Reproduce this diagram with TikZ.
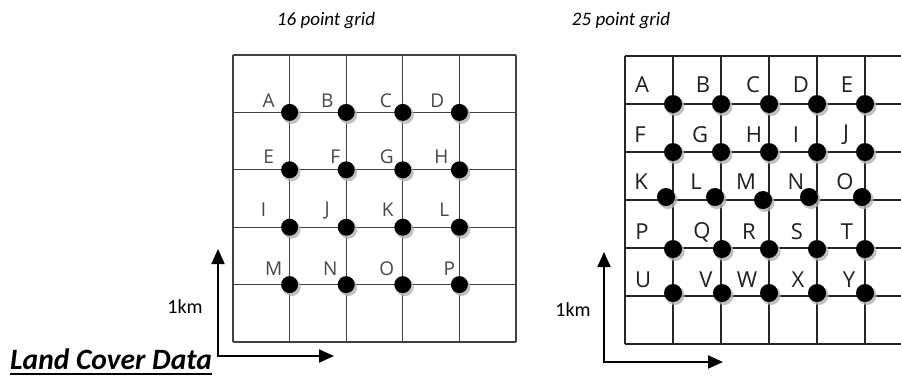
\documentclass[tikz,border=0pt]{standalone}
\usepackage{fontspec}
\setmainfont{Carlito}
\newfontfamily\lettfont{Open Sans}
\usetikzlibrary{arrows.meta}
\begin{document}
\begin{tikzpicture}[x=1pt,y=-1pt,
  gridline/.style={line width=1.3pt, draw=black!75},
  gridlineR/.style={line width=1.3pt, draw=black!85},
  dotshadow/.style={circle, fill=black!30, opacity=0.8, inner sep=0pt},
  dotfill/.style={circle, fill=black, inner sep=0pt},
  lblL/.style={font=\lettfont\fontsize{19}{19}\selectfont, text=black!72, inner sep=0pt},
  lblR/.style={font=\lettfont\fontsize{22}{22}\selectfont, text=black!88, inner sep=0pt},
  title/.style={font=\fontsize{19}{19}\selectfont\itshape, inner sep=0pt},
  kmlabel/.style={font=\fontsize{20}{20}\selectfont, inner sep=0pt},
  axis/.style={line width=2pt, -{Triangle[length=15pt,width=13pt]}}
]
\useasboundingbox (0,0) rectangle (901,376);
\clip (0,0) rectangle (901,376);

% ---------- left 16 point grid ----------
\foreach \i in {0,...,5} {
  \draw[gridline] ({233+56.6*\i},55) -- ({233+56.6*\i},342);
  \draw[gridline] (233,{55+57.4*\i}) -- (516,{55+57.4*\i});
}
\foreach \n/\c/\r/\dx/\dy in {A/1/1/-21/-12, B/2/1/-19/-12, C/3/1/-17/-12, D/4/1/-22/-12,
  E/1/2/-21/-13, F/2/2/-11/-13, G/3/2/-16/-13, H/4/2/-18/-13,
  I/1/3/-26/-17, J/2/3/-19/-17, K/3/3/-15/-17, L/4/3/-15/-17,
  M/1/4/-16/-16, N/2/4/-16/-16, O/3/4/-16/-16, P/4/4/-10/-16} {
  \node[dotshadow, minimum size=18pt] (ls\n) at ({233+56.6*\c+2},{55+57.4*\r+2.5}) {};
  \node[dotfill, minimum size=17pt] (ld\n) at ({233+56.6*\c},{55+57.4*\r}) {};
  \node[lblL] (ll\n) at ({233+56.6*\c+\dx},{55+57.4*\r+\dy}) {\n};
}

% ---------- right 25 point grid ----------
\foreach \i in {0,...,6} {
  \draw[gridlineR] ({625+48*\i},56) -- ({625+48*\i},344);
  \draw[gridlineR] (625,{56+48*\i}) -- (913,{56+48*\i});
}
\foreach \n/\c/\r/\ox/\oy in {A/1/1/0/0, B/2/1/0/0, C/3/1/0/0, D/4/1/0/0, E/5/1/0/0,
  F/1/2/0/0, G/2/2/0/0, H/3/2/0/0, I/4/2/0/0, J/5/2/0/0,
  K/1/3/-7/-3, L/2/3/-6/-3, M/3/3/-6/0, N/4/3/-8/-3, O/5/3/-3/-3,
  P/1/4/0/1, Q/2/4/1/1, R/3/4/0/1, S/4/4/0/1, T/5/4/0/1,
  U/1/5/0/-3, V/2/5/1/-3, W/3/5/0/-3, X/4/5/0/-3, Y/5/5/0/-3} {
  \node[dotshadow, minimum size=19pt] (rs\n) at ({625+48*\c+\ox+2},{56+48*\r+\oy+2.5}) {};
  \node[dotfill, minimum size=18pt] (rd\n) at ({625+48*\c+\ox},{56+48*\r+\oy}) {};
}
\foreach \n/\x/\y in {A/642/85, B/703/85, C/753/85, D/801/85, E/847/85,
  F/640/135, G/700/135, H/754/135, I/796/135, J/846/135,
  K/641/182, L/696/182, M/746/182, N/796/182, O/845/182,
  P/642/232, Q/702/232, R/749/232, S/797/232, T/847/232,
  U/643/280, V/706/280, W/747/280, X/798/280, Y/849/280} {
  \node[lblR] (rl\n) at (\x,\y) {\n};
}

% ---------- titles ----------
\node[title] (t16) at (326,21) {16 point grid};
\node[title] (t25) at (621,21) {25 point grid};

% ---------- axes ----------
\coordinate (lo) at (218,356);
\coordinate (lup) at (218,249);
\coordinate (lright) at (334,356);
\draw[axis] (lo) -- (lup);
\draw[axis] ([xshift=-1pt]lo) -- (lright);
\coordinate (ro) at (604,362);
\coordinate (rup) at (604,252);
\coordinate (rright) at (723,362);
\draw[axis] (ro) -- (rup);
\draw[axis] ([xshift=-1pt]ro) -- (rright);

\node[kmlabel] (km1) at (185,307) {1km};
\node[kmlabel] (km2) at (573,310) {1km};
\node[kmlabel] (km3) at (253,385) {1km};

% ---------- land cover data ----------
\node[font=\fontsize{29.5}{29.5}\selectfont\bfseries\itshape, inner sep=0pt, anchor=base west] (lcd) at (10,369) {Land Cover Data};
\draw[line width=2.2pt] ([yshift=-5pt]lcd.base west) -- ([yshift=-5pt]lcd.base east);
\end{tikzpicture}
\end{document}
